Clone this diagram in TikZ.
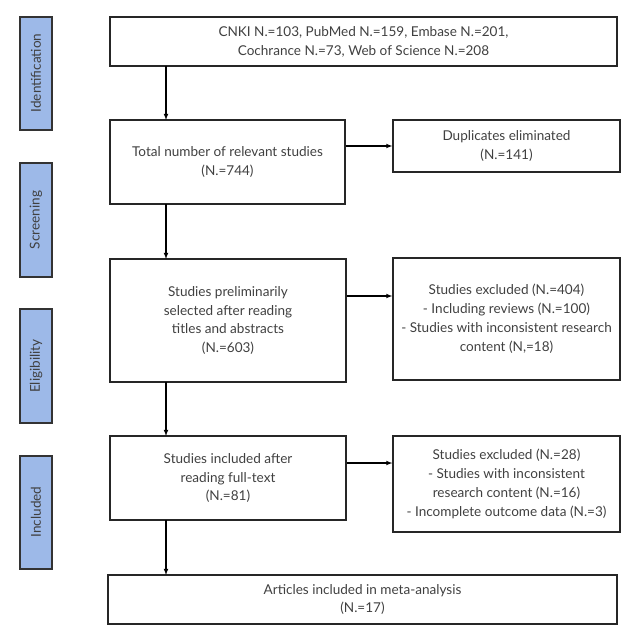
\documentclass[tikz,border=0pt]{standalone}
\usepackage{fontspec}
\setmainfont{Lato}
\begin{document}
\begin{tikzpicture}[x=1bp,y=-1bp,
  box/.style={draw=black!85,line width=1.3bp,align=center,inner sep=0pt,font=\fontsize{13.6}{19}\selectfont,text=black!75},
  bar/.style={draw=black!80,line width=1.2bp,fill={rgb,255:red,157;green,185;blue,232}},
  lab/.style={rotate=90,font=\fontsize{13.6}{16}\selectfont,text=black!75},
  arr/.style={-latex,line width=1.1bp}]
\useasboundingbox (0,0) rectangle (635,640);
\draw[bar] (20,17) rectangle (52,130); \node[lab] (l1) at (36,73) {Identification};
\draw[bar] (20,163) rectangle (52,277); \node[lab] (l2) at (36,220) {Screening};
\draw[bar] (20,309) rectangle (52,423); \node[lab] (l3) at (36,366) {Eligibility};
\draw[bar] (20,456) rectangle (52,569); \node[lab] (l4) at (36,512) {Included};
\node[box,minimum width=507bp,minimum height=49bp] (a) at (363.5,41.5) {CNKI N.=103, PubMed N.=159, Embase N.=201,\\Cochrance N.=73, Web of Science N.=208};
\node[box,minimum width=235bp,minimum height=84bp] (b) at (227.5,162) {Total number of relevant studies\\(N.=744)};
\node[box,minimum width=227bp,minimum height=52bp] (c) at (506.5,146) {Duplicates eliminated\\(N.=141)};
\node[box,minimum width=236bp,minimum height=123bp] (d) at (228,320.5) {Studies preliminarily\\selected after reading\\titles and abstracts\\(N.=603)};
\node[box,minimum width=227bp,minimum height=122bp] (e) at (506.5,319) {Studies excluded (N.=404)\\- Including reviews (N.=100)\\- Studies with inconsistent research\\content (N,=18)};
\node[box,minimum width=236bp,minimum height=84bp] (f) at (228,478) {Studies included after\\reading full-text\\(N.=81)};
\node[box,minimum width=227bp,minimum height=96bp] (g) at (506.5,484) {Studies excluded (N.=28)\\- Studies with inconsistent\\research content (N.=16)\\- Incomplete outcome data (N.=3)};
\node[box,minimum width=509bp,minimum height=49bp] (h) at (362.5,599.5) {Articles included in meta-analysis\\(N.=17)};
\draw[arr] (166,66) -- (166,120);
\draw[arr] (166,204) -- (166,259);
\draw[arr] (166,382) -- (166,436);
\draw[arr] (166,520) -- (166,575);
\draw[arr] (b.east|-0,146) -- (c.west|-0,146);
\draw[arr] (d.east|-0,296) -- (e.west|-0,296);
\draw[arr] (f.east|-0,463) -- (g.west|-0,463);
\end{tikzpicture}
\end{document}
